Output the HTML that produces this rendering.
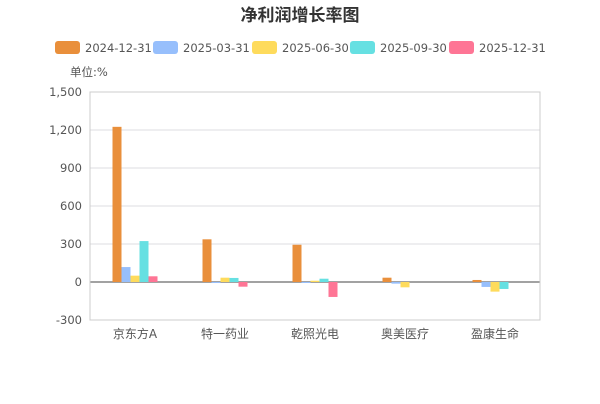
<!DOCTYPE html>
<html><head><meta charset="utf-8"><style>
body{margin:0;background:#fff;font-family:"DejaVu Sans","Noto Sans CJK SC",sans-serif;}
svg text{font-family:"DejaVu Sans","Noto Sans CJK SC",sans-serif;}
</style></head><body>
<svg id="c" width="600" height="400">
<text x="300" y="21" text-anchor="middle" font-size="17" font-weight="bold" fill="#333">净利润增长率图</text>
<text x="70" y="76" font-size="11.5" fill="#555">单位:%</text>
</svg>
<script>
const categories=["京东方A","特一药业","乾照光电","奥美医疗","盈康生命"];
const seriesNames=["2024-12-31","2025-03-31","2025-06-30","2025-09-30","2025-12-31"];
const colors=["#e98f3b","#97bffc","#fedb5c","#66e0e2","#fe7595"];
const s0=[1225,337,294,34,16];
const s1=[118,-8,-5,-13,-39];
const s2=[50,34,10,-42,-76];
const s3=[323,32,26,0,-55];
const s4=[45,-37,-118,0,0];
const series=[s0,s1,s2,s3,s4];
const ticks=[-300,0,300,600,900,1200,1500];
const tickLabels=["-300","0","300","600","900","1,200","1,500"];
const svg=document.getElementById('c');const NS="http://www.w3.org/2000/svg";
const L=90,R=540,T=92,B=320,ymin=-300,ymax=1500;
const y=v=>B-(v-ymin)/(ymax-ymin)*(B-T);
const gw=(R-L)/categories.length,bw=9;
function mk(t,a){const e=document.createElementNS(NS,t);for(const k in a)e.setAttribute(k,a[k]);svg.appendChild(e);return e;}
ticks.forEach((t,i)=>{
 const g=mk('line',{x1:L,x2:R,y1:y(t),y2:y(t),stroke:t===0?'#444':'#dcdce0','stroke-width':1});
 
 
 const tx=mk('text',{x:82,y:y(t)+4,'text-anchor':'end','font-size':11.5,fill:'#555'});tx.textContent=tickLabels[i];
 
 
});
const fr=mk('rect',{x:L,y:T,width:R-L,height:B-T,fill:'none',stroke:'#ccc'});


categories.forEach((c,i)=>{
 const cx=L+gw*(i+0.5);
 const tx=mk('text',{x:cx,y:B+18,'text-anchor':'middle','font-size':12,fill:'#555'});tx.textContent=c;
 
 
 series.forEach((s,j)=>{
  const v=s[i];if(v===0)return;
  const x=cx-bw*2.5+j*bw;const y0=y(0),y1=y(v);
  const r=mk('rect',{x:x,y:Math.min(y0,y1),width:bw,height:Math.max(Math.abs(y1-y0),1),fill:colors[j]});
  
  
 });
});
const lx=[55,153,252,350,449];
seriesNames.forEach((n,j)=>{
 const r=mk('rect',{x:lx[j],y:41,width:25,height:13,rx:3,fill:colors[j]});
 
 
 const t=mk('text',{x:lx[j]+30,y:52,'font-size':11.5,fill:'#555'});t.textContent=n;
 
 
});
</script>
</body></html>
